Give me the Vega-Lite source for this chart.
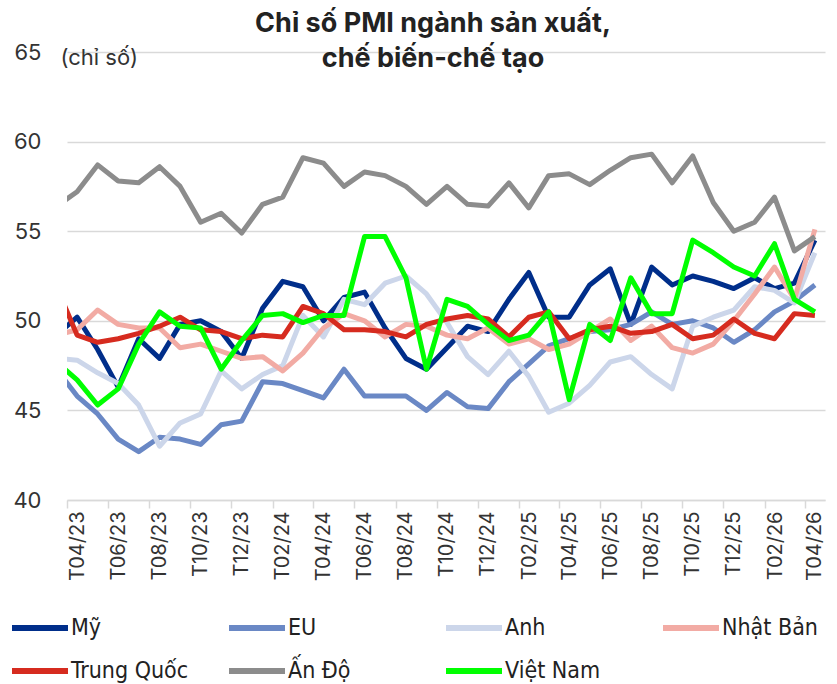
{
  "$schema": "https://vega.github.io/schema/vega-lite/v6.json",
  "width": 758,
  "height": 448,
  "autosize": {"type": "none"},
  "padding": {"left": 67, "top": 52, "right": 12, "bottom": 184},
  "background": "white",
  "title": {
    "text": ["Chỉ số PMI ngành sản xuất,", "chế biến-chế tạo"],
    "font": "Inter",
    "fontSize": 27,
    "fontWeight": "bold",
    "color": "#222222",
    "anchor": "middle",
    "frame": "group",
    "dx": -13,
    "lineHeight": 35,
    "offset": -32
  },
  "config": {"view": {"stroke": null}},
  "data": {
    "values": [
      {"m": "2023-03", "Mỹ": 49.2, "EU": 47.3, "Anh": 47.9, "Nhật Bản": 49.2, "Trung Quốc": 51.9, "Ấn Độ": 56.4, "Việt Nam": 47.7},
      {"m": "2023-04", "Mỹ": 50.2, "EU": 45.8, "Anh": 47.8, "Nhật Bản": 49.5, "Trung Quốc": 49.2, "Ấn Độ": 57.2, "Việt Nam": 46.7},
      {"m": "2023-05", "Mỹ": 48.4, "EU": 44.8, "Anh": 47.1, "Nhật Bản": 50.6, "Trung Quốc": 48.8, "Ấn Độ": 58.7, "Việt Nam": 45.3},
      {"m": "2023-06", "Mỹ": 46.3, "EU": 43.4, "Anh": 46.5, "Nhật Bản": 49.8, "Trung Quốc": 49.0, "Ấn Độ": 57.8, "Việt Nam": 46.2},
      {"m": "2023-07", "Mỹ": 49.0, "EU": 42.7, "Anh": 45.3, "Nhật Bản": 49.6, "Trung Quốc": 49.3, "Ấn Độ": 57.7, "Việt Nam": 48.7},
      {"m": "2023-08", "Mỹ": 47.9, "EU": 43.5, "Anh": 43.0, "Nhật Bản": 49.6, "Trung Quốc": 49.7, "Ấn Độ": 58.6, "Việt Nam": 50.5},
      {"m": "2023-09", "Mỹ": 49.8, "EU": 43.4, "Anh": 44.3, "Nhật Bản": 48.5, "Trung Quốc": 50.2, "Ấn Độ": 57.5, "Việt Nam": 49.7},
      {"m": "2023-10", "Mỹ": 50.0, "EU": 43.1, "Anh": 44.8, "Nhật Bản": 48.7, "Trung Quốc": 49.5, "Ấn Độ": 55.5, "Việt Nam": 49.6},
      {"m": "2023-11", "Mỹ": 49.4, "EU": 44.2, "Anh": 47.2, "Nhật Bản": 48.3, "Trung Quốc": 49.4, "Ấn Độ": 56.0, "Việt Nam": 47.3},
      {"m": "2023-12", "Mỹ": 47.9, "EU": 44.4, "Anh": 46.2, "Nhật Bản": 47.9, "Trung Quốc": 49.0, "Ấn Độ": 54.9, "Việt Nam": 48.9},
      {"m": "2024-01", "Mỹ": 50.7, "EU": 46.6, "Anh": 47.0, "Nhật Bản": 48.0, "Trung Quốc": 49.2, "Ấn Độ": 56.5, "Việt Nam": 50.3},
      {"m": "2024-02", "Mỹ": 52.2, "EU": 46.5, "Anh": 47.5, "Nhật Bản": 47.2, "Trung Quốc": 49.1, "Ấn Độ": 56.9, "Việt Nam": 50.4},
      {"m": "2024-03", "Mỹ": 51.9, "EU": 46.1, "Anh": 50.3, "Nhật Bản": 48.2, "Trung Quốc": 50.8, "Ấn Độ": 59.1, "Việt Nam": 49.9},
      {"m": "2024-04", "Mỹ": 50.0, "EU": 45.7, "Anh": 49.1, "Nhật Bản": 49.6, "Trung Quốc": 50.4, "Ấn Độ": 58.8, "Việt Nam": 50.3},
      {"m": "2024-05", "Mỹ": 51.3, "EU": 47.3, "Anh": 51.2, "Nhật Bản": 50.4, "Trung Quốc": 49.5, "Ấn Độ": 57.5, "Việt Nam": 50.3},
      {"m": "2024-06", "Mỹ": 51.6, "EU": 45.8, "Anh": 50.9, "Nhật Bản": 50.0, "Trung Quốc": 49.5, "Ấn Độ": 58.3, "Việt Nam": 54.7},
      {"m": "2024-07", "Mỹ": 49.6, "EU": 45.8, "Anh": 52.1, "Nhật Bản": 49.1, "Trung Quốc": 49.4, "Ấn Độ": 58.1, "Việt Nam": 54.7},
      {"m": "2024-08", "Mỹ": 47.9, "EU": 45.8, "Anh": 52.5, "Nhật Bản": 49.8, "Trung Quốc": 49.1, "Ấn Độ": 57.5, "Việt Nam": 52.4},
      {"m": "2024-09", "Mỹ": 47.3, "EU": 45.0, "Anh": 51.5, "Nhật Bản": 49.7, "Trung Quốc": 49.8, "Ấn Độ": 56.5, "Việt Nam": 47.3},
      {"m": "2024-10", "Mỹ": 48.5, "EU": 46.0, "Anh": 49.9, "Nhật Bản": 49.2, "Trung Quốc": 50.1, "Ấn Độ": 57.5, "Việt Nam": 51.2},
      {"m": "2024-11", "Mỹ": 49.7, "EU": 45.2, "Anh": 48.0, "Nhật Bản": 49.0, "Trung Quốc": 50.3, "Ấn Độ": 56.5, "Việt Nam": 50.8},
      {"m": "2024-12", "Mỹ": 49.4, "EU": 45.1, "Anh": 47.0, "Nhật Bản": 49.6, "Trung Quốc": 50.1, "Ấn Độ": 56.4, "Việt Nam": 49.8},
      {"m": "2025-01", "Mỹ": 51.2, "EU": 46.6, "Anh": 48.3, "Nhật Bản": 48.7, "Trung Quốc": 49.1, "Ấn Độ": 57.7, "Việt Nam": 48.9},
      {"m": "2025-02", "Mỹ": 52.7, "EU": 47.6, "Anh": 46.9, "Nhật Bản": 49.0, "Trung Quốc": 50.2, "Ấn Độ": 56.3, "Việt Nam": 49.2},
      {"m": "2025-03", "Mỹ": 50.2, "EU": 48.6, "Anh": 44.9, "Nhật Bản": 48.4, "Trung Quốc": 50.5, "Ấn Độ": 58.1, "Việt Nam": 50.5},
      {"m": "2025-04", "Mỹ": 50.2, "EU": 49.0, "Anh": 45.4, "Nhật Bản": 48.7, "Trung Quốc": 49.0, "Ấn Độ": 58.2, "Việt Nam": 45.6},
      {"m": "2025-05", "Mỹ": 52.0, "EU": 49.4, "Anh": 46.4, "Nhật Bản": 49.4, "Trung Quốc": 49.5, "Ấn Độ": 57.6, "Việt Nam": 49.8},
      {"m": "2025-06", "Mỹ": 52.9, "EU": 49.5, "Anh": 47.7, "Nhật Bản": 50.1, "Trung Quốc": 49.7, "Ấn Độ": 58.4, "Việt Nam": 48.9},
      {"m": "2025-07", "Mỹ": 49.8, "EU": 49.8, "Anh": 48.0, "Nhật Bản": 48.9, "Trung Quốc": 49.3, "Ấn Độ": 59.1, "Việt Nam": 52.4},
      {"m": "2025-08", "Mỹ": 53.0, "EU": 50.5, "Anh": 47.0, "Nhật Bản": 49.7, "Trung Quốc": 49.4, "Ấn Độ": 59.3, "Việt Nam": 50.4},
      {"m": "2025-09", "Mỹ": 52.0, "EU": 49.8, "Anh": 46.2, "Nhật Bản": 48.5, "Trung Quốc": 49.8, "Ấn Độ": 57.7, "Việt Nam": 50.4},
      {"m": "2025-10", "Mỹ": 52.5, "EU": 50.0, "Anh": 49.7, "Nhật Bản": 48.2, "Trung Quốc": 49.0, "Ấn Độ": 59.2, "Việt Nam": 54.5},
      {"m": "2025-11", "Mỹ": 52.2, "EU": 49.6, "Anh": 50.2, "Nhật Bản": 48.7, "Trung Quốc": 49.2, "Ấn Độ": 56.6, "Việt Nam": 53.8},
      {"m": "2025-12", "Mỹ": 51.8, "EU": 48.8, "Anh": 50.6, "Nhật Bản": 50.0, "Trung Quốc": 50.1, "Ấn Độ": 55.0, "Việt Nam": 53.0},
      {"m": "2026-01", "Mỹ": 52.4, "EU": 49.5, "Anh": 51.9, "Nhật Bản": 51.5, "Trung Quốc": 49.3, "Ấn Độ": 55.5, "Việt Nam": 52.5},
      {"m": "2026-02", "Mỹ": 51.8, "EU": 50.5, "Anh": 51.7, "Nhật Bản": 53.0, "Trung Quốc": 49.0, "Ấn Độ": 56.9, "Việt Nam": 54.3},
      {"m": "2026-03", "Mỹ": 52.1, "EU": 51.1, "Anh": 51.0, "Nhật Bản": 51.2, "Trung Quốc": 50.4, "Ấn Độ": 53.9, "Việt Nam": 51.2},
      {"m": "2026-04", "Mỹ": 54.5, "EU": 52.0, "Anh": 53.8, "Nhật Bản": 55.1, "Trung Quốc": 50.3, "Ấn Độ": 54.7, "Việt Nam": 50.5}
    ]
  },
  "transform": [
    {"fold": ["Mỹ", "EU", "Anh", "Nhật Bản", "Trung Quốc", "Ấn Độ", "Việt Nam"], "as": ["s", "v"]}
  ],
  "mark": {"type": "line", "strokeWidth": 5, "clip": true, "strokeJoin": "round"},
  "encoding": {
    "x": {
      "field": "m",
      "type": "temporal",
      "timeUnit": "utcyearmonth",
      "bandPosition": 0.5,
      "scale": {
        "domain": [
          {"year": 2023, "month": 4, "date": 1, "utc": true},
          {"year": 2026, "month": 5, "date": 1, "utc": true}
        ]
      },
      "axis": {
        "values": [
          {"year": 2023, "month": 4, "date": 1, "utc": true},
          {"year": 2023, "month": 6, "date": 1, "utc": true},
          {"year": 2023, "month": 8, "date": 1, "utc": true},
          {"year": 2023, "month": 10, "date": 1, "utc": true},
          {"year": 2023, "month": 12, "date": 1, "utc": true},
          {"year": 2024, "month": 2, "date": 1, "utc": true},
          {"year": 2024, "month": 4, "date": 1, "utc": true},
          {"year": 2024, "month": 6, "date": 1, "utc": true},
          {"year": 2024, "month": 8, "date": 1, "utc": true},
          {"year": 2024, "month": 10, "date": 1, "utc": true},
          {"year": 2024, "month": 12, "date": 1, "utc": true},
          {"year": 2025, "month": 2, "date": 1, "utc": true},
          {"year": 2025, "month": 4, "date": 1, "utc": true},
          {"year": 2025, "month": 6, "date": 1, "utc": true},
          {"year": 2025, "month": 8, "date": 1, "utc": true},
          {"year": 2025, "month": 10, "date": 1, "utc": true},
          {"year": 2025, "month": 12, "date": 1, "utc": true},
          {"year": 2026, "month": 2, "date": 1, "utc": true},
          {"year": 2026, "month": 4, "date": 1, "utc": true}
        ],
        "labelExpr": "'T' + utcFormat(datum.value, '%m/%y')",
        "labelAngle": -90,
        "labelOffset": 10,
        "labelFont": "Inter",
        "labelFontSize": 20,
        "labelColor": "#333333",
        "labelPadding": 3,
        "labelFlush": false,
        "labelOverlap": false,
        "tickSize": 8,
        "tickColor": "#D9D9D9",
        "tickWidth": 1.5,
        "domainColor": "#D9D9D9",
        "domainWidth": 1.5,
        "grid": false,
        "title": null
      }
    },
    "y": {
      "field": "v",
      "type": "quantitative",
      "scale": {"domain": [40, 65], "nice": false, "zero": false},
      "axis": {
        "values": [40, 45, 50, 55, 60, 65],
        "title": "(chỉ số)",
        "titleAngle": 0,
        "titleAlign": "left",
        "titleBaseline": "middle",
        "titleX": -7,
        "titleY": 5,
        "titleFont": "Inter",
        "titleFontSize": 22,
        "titleFontWeight": "normal",
        "titleColor": "#333333",
        "labelFont": "Inter",
        "labelFontSize": 22,
        "labelColor": "#333333",
        "labelPadding": 26,
        "domain": false,
        "ticks": false,
        "grid": true,
        "gridColor": "#D9D9D9",
        "gridWidth": 1.5
      }
    },
    "color": {
      "field": "s",
      "type": "nominal",
      "scale": {
        "domain": ["Mỹ", "EU", "Anh", "Nhật Bản", "Trung Quốc", "Ấn Độ", "Việt Nam"],
        "range": ["#002E8A", "#6A88C5", "#CCD6EA", "#F2ABA4", "#D62B1F", "#8C8C8C", "#00FF00"]
      },
      "legend": {
        "orient": "none",
        "legendX": -58,
        "legendY": 545,
        "direction": "horizontal",
        "columns": 4,
        "title": null,
        "symbolType": "stroke",
        "symbolSize": 3136,
        "symbolStrokeWidth": 6,
        "labelFont": "Liberation Sans Narrow, DejaVu Sans Condensed, Roboto",
        "labelFontSize": 23,
        "labelColor": "#222222",
        "labelOffset": 0,
        "labelLimit": 300,
        "gridAlign": "all",
        "columnPadding": 28,
        "rowPadding": -24,
        "padding": 0
      }
    }
  }
}
